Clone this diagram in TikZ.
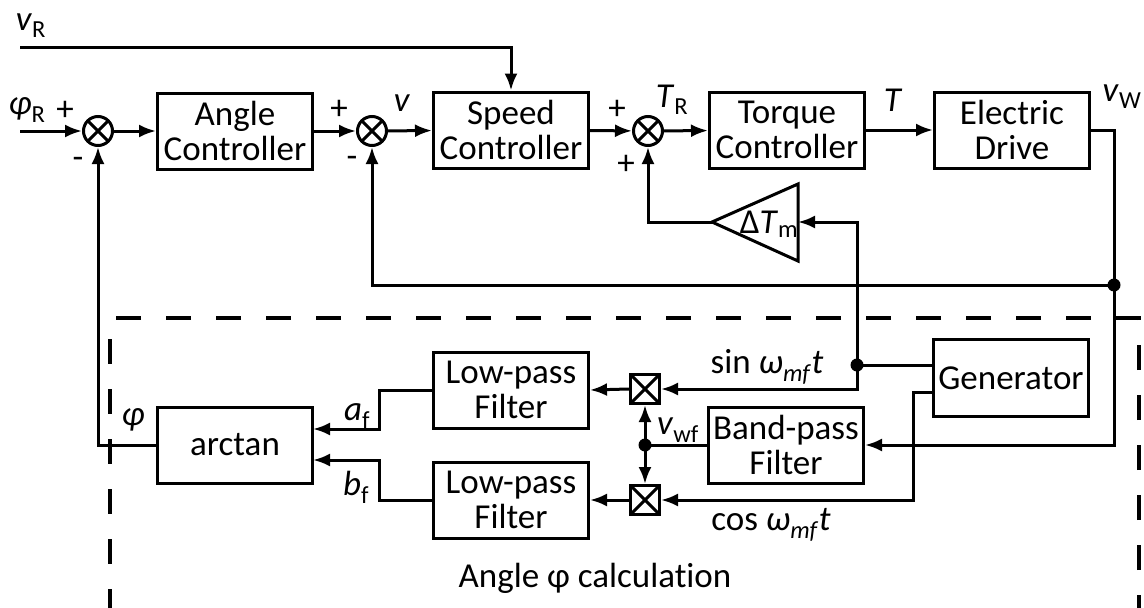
\documentclass[tikz,border=0pt]{standalone}
\usepackage{fontspec}
\setmainfont[Ligatures=NoCommon]{Carlito}
\usetikzlibrary{arrows.meta,calc}

\begin{document}
\begin{tikzpicture}[x=1pt,y=-1pt,line width=3pt,
  font=\fontsize{35}{35}\selectfont,
  >={Latex[length=17pt,width=13pt]},
  block/.style={draw,minimum width=155pt,minimum height=76pt,align=center,inner sep=0pt},
  sumnode/.style={circle,draw,minimum size=29pt,inner sep=0pt,
    path picture={\draw (path picture bounding box.center)+(45:15pt) -- +(225:15pt)
      (path picture bounding box.center)+(135:15pt) -- +(315:15pt);}},
  mulnode/.style={draw,minimum size=29pt,inner sep=0pt,
    path picture={\draw (path picture bounding box.north west) -- (path picture bounding box.south east)
      (path picture bounding box.north east) -- (path picture bounding box.south west);}},
  dot/.style={circle,fill,minimum size=13pt,inner sep=0pt}]
\useasboundingbox (0,0) rectangle (1144,608);
\clip (0,0) rectangle (1144,608);

% main loop
\coordinate (vrIn) at (20,47);
\coordinate (phiIn) at (20,131);
\node[sumnode] (sumA) at (98,131) {};
\node[block] (angle) at (235,131) {Angle\\Controller};
\node[sumnode] (sumB) at (372,131) {};
\node[block] (speed) at (511,130) {Speed\\Controller};
\node[sumnode] (sumC) at (648,131) {};
\node[block] (torque) at (787,130) {Torque\\Controller};
\node[block] (drive) at (1012,130) {Electric\\Drive};
\node[dot] (jW) at (1114,285) {};

% gain
\coordinate (triApex) at (712,222);
\coordinate (triIn) at (798,222);
\draw (triApex) -- (798,184) -- (798,261) -- cycle;

% angle calculation
\node[block] (lpfA) at (511,390) {Low-pass\\Filter};
\node[block] (lpfB) at (511,500) {Low-pass\\Filter};
\node[mulnode] (mulA) at (645,389) {};
\node[mulnode] (mulB) at (645,500) {};
\node[block] (bpf) at (786,445) {Band-pass\\Filter};
\node[block,minimum height=77pt] (gen) at (1011,378) {Generator};
\node[block] (arctan) at (235,445) {arctan};
\node[dot] (jSin) at (857,365) {};
\node[dot] (jV) at (645,445) {};
\coordinate (genB) at (934,392);
\coordinate (atA) at (313,429);
\coordinate (atB) at (313,460);

\draw[->] (vrIn) -| (speed.north);
\draw[->] (phiIn) -- (sumA);
\draw[->] (sumA) -- (angle);
\draw[->] (angle) -- (sumB);
\draw[->] (sumB) -- (speed);
\draw[->] (speed) -- (sumC);
\draw[->] (sumC) -- (torque);
\draw[->] (torque) -- (drive);
\draw (drive.east) -| (jW.center);
\draw[->] (jW.center) |- (bpf.east);
\draw[->] (jW.center) -| (sumB.south);
\draw[->] (triApex) -| (sumC.south);
\draw[->] (jSin.center) |- (triIn);
\draw (jSin.center) -- (jSin -| gen.west);
\draw[->] (jSin.center) |- (mulA.east);
\draw[->] (genB) -- (913,392) |- (mulB.east);
\draw (bpf.west) -- (jV.center);
\draw[->] (jV.center) -- (mulA.south);
\draw[->] (jV.center) -- (mulB.north);
\draw[->] (mulA.west) -- (lpfA.east);
\draw[->] (mulB.west) -- (lpfB.east);
\draw[->] (lpfA.west) -- (379,390) |- (atA);
\draw[->] (lpfB.west) -- (379,500) |- (atB);
\draw[->] (arctan.west) -| (sumA.south);

% dashed frame
\draw[line width=3.5pt,dash pattern=on 25pt off 25pt,dash phase=29pt] (110,318) rectangle (1139,640);

% labels
\node at (31,26) {\textit{v}\textsubscript{R}};
\node at (27,110) {\textit{φ}\textsubscript{R}};
\node at (65,111) {+};
\node at (78,163) {-};
\node at (339,110) {+};
\node at (352,162) {-};
\node at (402,103) {\textit{v}};
\node at (617,110) {+};
\node at (626,165) {+};
\node at (672,100) {\textit{T}\textsubscript{R}};
\node at (893,100) {\textit{T}};
\node at (1122,97) {\textit{v}\textsubscript{W}};
\node at (769,224) {Δ\textit{T}\textsubscript{m}};
\node at (133,420) {\textit{φ}};
\node at (357,416) {\textit{a}\textsubscript{f}};
\node at (356,487) {\textit{b}\textsubscript{f}};
\node at (678,430) {\textit{v}\textsubscript{wf}};
\node at (767,367) {sin \textit{ω}\textsubscript{\textit{mf}}\textit{t}};
\node at (771,525) {cos \textit{ω}\textsubscript{\textit{mf}}\textit{t}};
\node at (595,578) {Angle φ calculation};
\end{tikzpicture}
\end{document}
